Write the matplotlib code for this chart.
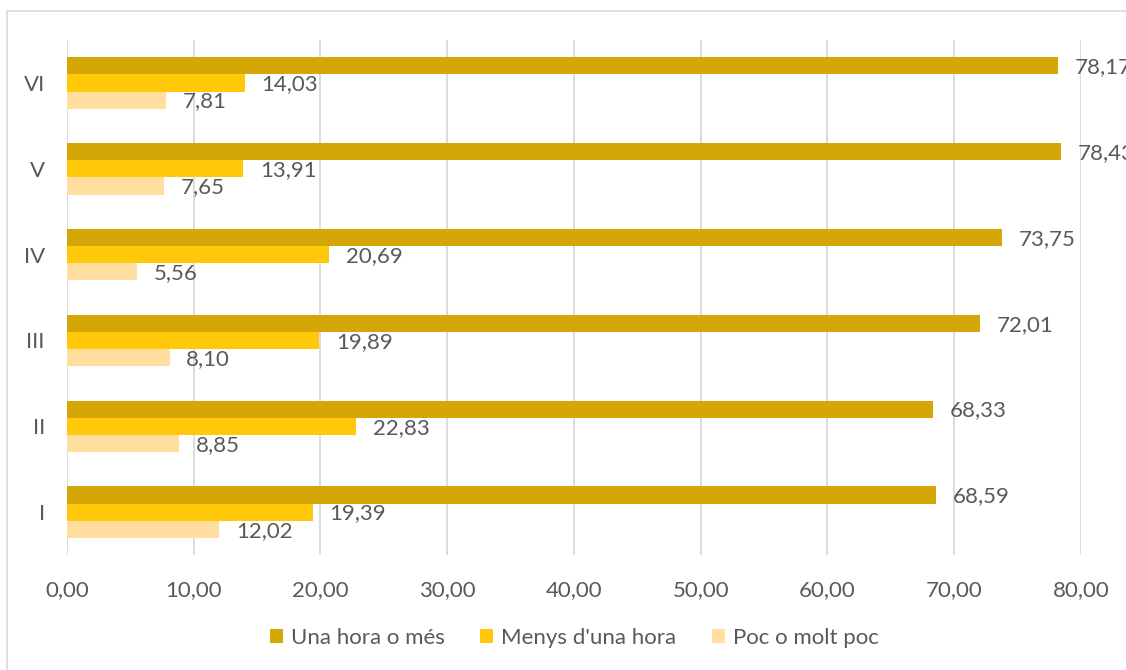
import numpy as np
import matplotlib.pyplot as plt
from matplotlib.patches import Rectangle

plt.rcParams['font.family'] = ['Lato', 'DejaVu Sans']

# categories from bottom to top
categories = ['I', 'II', 'III', 'IV', 'V', 'VI']
una_hora = [68.59, 68.33, 72.01, 73.75, 78.43, 78.17]
menys_hora = [19.39, 22.83, 19.89, 20.69, 13.91, 14.03]
poc = [12.02, 8.85, 8.10, 5.56, 7.65, 7.81]

series = [
    ('Una hora o més', una_hora, '#D4A706'),
    ("Menys d'una hora", menys_hora, '#FFC90A'),
    ('Poc o molt poc', poc, '#FFDEA0'),
]
xticks = np.arange(0, 81, 10)

text_col = '#595959'
fs = 16

fig = plt.figure(figsize=(11.26, 6.70), dpi=100)
ax = fig.add_axes([0.0595, 0.1716, 0.9005, 0.7687])

# frame around the chart area
fig.patches.append(Rectangle((7 / 1126, -0.1), 1.2, 1 - 11 / 670 + 0.1,
                             transform=fig.transFigure, fill=False,
                             edgecolor='#D9D9D9', linewidth=1.2, zorder=0))

y = np.arange(len(categories))
h = 0.2
offsets = [h, 0, -h]
for (name, vals, col), off in zip(series, offsets):
    bars = ax.barh(y + off, vals, height=h, color=col, label=name, zorder=2)
    for b, v in zip(bars, vals):
        ax.annotate(f'{v:.2f}'.replace('.', ','),
                    xy=(b.get_width(), b.get_y() + b.get_height() / 2),
                    xytext=(12, -1), textcoords='offset points',
                    ha='left', va='center', fontsize=fs, color=text_col,
                    annotation_clip=False)

ax.set_xlim(0, 80)
ax.set_ylim(-0.5, 5.5)
ax.set_xticks(xticks)
ax.set_xticklabels([f'{t:.2f}'.replace('.', ',') for t in xticks])
ax.set_yticks(y)
ax.set_yticklabels(categories)
ax.tick_params(axis='both', length=0, labelsize=fs, labelcolor=text_col)
ax.tick_params(axis='x', pad=18)
ax.tick_params(axis='y', pad=16)
ax.grid(axis='x', color='#D9D9D9', linewidth=1.3, zorder=0)
ax.set_axisbelow(True)
for s in ax.spines.values():
    s.set_visible(False)

fig.legend(loc='center', bbox_to_anchor=(0.51, 1 - 638 / 670), ncol=3,
           frameon=False, fontsize=fs, labelcolor=text_col,
           handlelength=0.6, handleheight=0.6, handletextpad=0.35,
           columnspacing=1.6)

fig.savefig('out.png', dpi=100)
